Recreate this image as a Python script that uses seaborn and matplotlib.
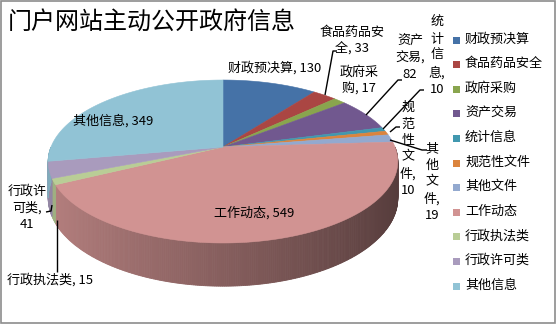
import numpy as np
import matplotlib
matplotlib.use("Agg")
import matplotlib.pyplot as plt
from matplotlib.patches import Polygon, Rectangle
import seaborn as sns

# ---- data ----
categories = ["财政预决算", "食品药品安全", "政府采购", "资产交易", "统计信息",
              "规范性文件", "其他文件", "工作动态", "行政执法类", "行政许可类", "其他信息"]
values = [130, 33, 17, 82, 10, 10, 19, 549, 15, 41, 349]
colors = ["#4572A7", "#AA4643", "#89A54E", "#71588F", "#4198AF", "#DB843D",
          "#93A9CF", "#D19392", "#B9CD96", "#A99BBD", "#91C3D5"]
title = "门户网站主动公开政府信息"

sns.set_theme(style="white")
palette = sns.color_palette(colors)
plt.rcParams["font.family"] = ["Noto Sans CJK SC", "DejaVu Sans"]

W, H = 556, 324
fig = plt.figure(figsize=(W / 100, H / 100), dpi=100)
ax = fig.add_axes([0, 0, 1, 1])
ax.set_xlim(0, W)
ax.set_ylim(H, 0)
ax.axis("off")

# ---- perspective pie geometry (pixel space) ----
CX, CY = 223.0, 147.0
RX = 172.0
A = 78.9        # vertical radius factor
B = 0.178       # perspective strength
D = 35.5        # slab thickness


def proj(phi, r=1.0, z=0.0):
    u = r * np.sin(phi)
    v = -r * np.cos(phi)
    s = 1.0 / (1.0 - B * v)
    x = CX + RX * u * s
    y = CY + (A * v + D * z) * s
    return x, y


total = float(sum(values))
bounds = np.concatenate([[0.0], np.cumsum(values)]) / total * 2 * np.pi

# outer wall on the near half, shaded from left (light) to right (dark)
for i, col in enumerate(palette):
    a0, a1 = max(bounds[i], np.pi / 2), min(bounds[i + 1], 3 * np.pi / 2)
    if a1 <= a0:
        continue
    n = max(2, int((a1 - a0) / 0.01))
    ph = np.linspace(a0, a1, n + 1)
    for k in range(n):
        p0, p1 = ph[k], ph[k + 1]
        xt0, yt0 = proj(p0)
        xt1, yt1 = proj(p1)
        xb0, yb0 = proj(p0, z=1.0)
        xb1, yb1 = proj(p1, z=1.0)
        um = np.sin(0.5 * (p0 + p1))
        f = 0.64 - 0.24 * um
        c = tuple(min(1.0, ch * f) for ch in col)
        ax.add_patch(Polygon([(xt0, yt0), (xt1, yt1), (xb1, yb1), (xb0, yb0)],
                             closed=True, facecolor=c, edgecolor=c, lw=0.6))

# top faces
for i, col in enumerate(palette):
    ph = np.linspace(bounds[i], bounds[i + 1], max(3, int((bounds[i + 1] - bounds[i]) / 0.01)))
    xs, ys = proj(ph)
    pts = [(CX, CY)] + list(zip(xs, ys))
    ax.add_patch(Polygon(pts, closed=True, facecolor=col, edgecolor=col, lw=0.4))

# ---- data labels ----
lab_fs = 9.4
def lab(i, text_fmt, x, y, **kw):
    ax.text(x, y, text_fmt.format(c=categories[i], v=values[i]), fontsize=lab_fs,
            ha="center", va="center", color="#000000", linespacing=1.35, **kw)

lab(0, "{c}, {v}", 275, 68)
lab(1, "食品药品安\n全, {v}", 352, 41)
lab(2, "政府采\n购, {v}", 359, 81)
lab(3, "资产\n交易,\n{v}", 410, 58)
lab(4, "统\n计\n信\n息,\n{v}", 437, 56)
lab(5, "规\n范\n性\n文\n件,\n{v}", 408, 149)
lab(6, "其\n他\n文\n件,\n{v}", 432, 182)
lab(7, "{c}, {v}", 254, 213)
lab(8, "{c}, {v}", 50, 280)
lab(9, "行政许\n可类,\n{v}", 27, 208)
lab(10, "{c}, {v}", 113, 121)

leaders = [
    [(337, 51), (333, 51), (325, 95)],
    [(402, 80), (398, 80), (366, 115)],
    [(424, 90), (420, 90), (383, 129)],
    [(400, 127), (396, 127), (390, 132)],
    [(390, 140), (422, 150), (427, 150)],
    [(46, 212), (51, 211), (52, 205)],
    [(57, 272), (57, 220)],
]
for pts in leaders:
    xs, ys = zip(*pts)
    ax.plot(xs, ys, color="black", lw=1.0, solid_capstyle="butt")

# ---- title ----
ax.text(8, 22, title, fontsize=17.3, ha="left", va="center", color="#000000")

# ---- legend ----
for i, (name, col) in enumerate(zip(categories, palette)):
    y = 39 + i * 24.6
    ax.add_patch(Rectangle((453, y - 2.5), 7, 7, facecolor=col, edgecolor="none"))
    ax.text(465, y, name, fontsize=lab_fs, ha="left", va="center", color="#000000")

# chart border
ax.add_patch(Rectangle((0.5, 0.5), W - 1.5, H - 1.5, fill=False, edgecolor="#8c8c8c", lw=1.2))

fig.savefig("out.png", dpi=100)
